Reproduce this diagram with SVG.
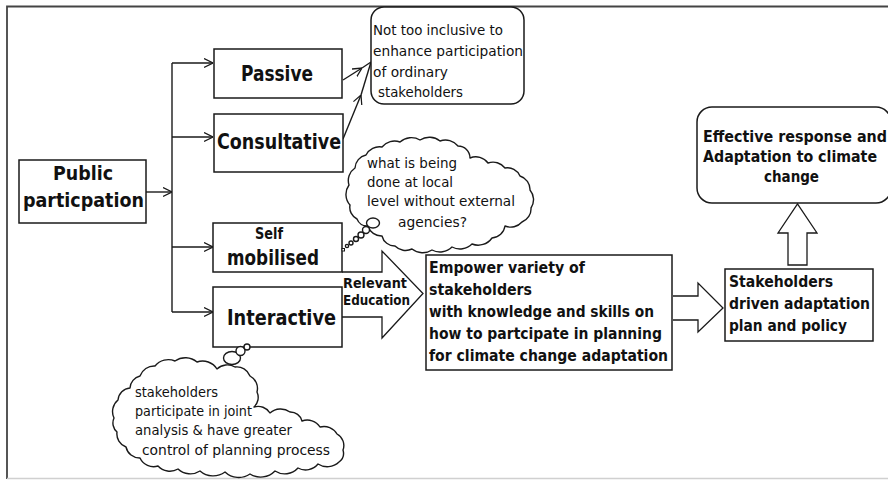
<svg xmlns="http://www.w3.org/2000/svg" width="888" height="481" viewBox="0 0 888 481">
  <style>
    .box { fill: #fff; stroke: #1a1a1a; stroke-width: 1.5; }
    .line { fill: none; stroke: #1a1a1a; stroke-width: 1.4; }
    .block { fill: #fff; stroke: #1a1a1a; stroke-width: 1.3; stroke-linejoin: miter; }
    .cloud { fill: #fff; stroke: #1a1a1a; stroke-width: 1.4; stroke-linejoin: round; }
    text { font-family: "DejaVu Sans Condensed", "DejaVu Sans", sans-serif; fill: #111; }
    .b22 { font-size: 22px; font-weight: bold; }
    .b20 { font-size: 20px; font-weight: bold; }
    .b16 { font-size: 16px; font-weight: bold; }
    .b15 { font-size: 15px; font-weight: bold; }
    .b14 { font-size: 14px; font-weight: bold; }
    .r15 { font-size: 14.5px; }
  </style>
  <defs>
    <marker id="open" viewBox="0 0 10 10" refX="10" refY="5" markerWidth="9" markerHeight="11" markerUnits="userSpaceOnUse" orient="auto">
      <path d="M0,0 L10,5 L0,10" fill="none" stroke="#1a1a1a" stroke-width="1.4"/>
    </marker>
  </defs>

  <rect width="888" height="481" fill="#fff"/>
  <!-- outer frame -->
  <path d="M7,479 L7,6.5 L888,6.5" fill="none" stroke="#444" stroke-width="1.8"/>
  <path d="M7,478.5 L888,478.5" fill="none" stroke="#d0d0d0" stroke-width="1.5"/>

  <!-- connectors -->
  <g id="connectors">
    <path class="line" d="M146,192 L172,192" marker-end="url(#open)"/>
    <path class="line" d="M172,63 L172,312"/>
    <path class="line" d="M172,63 L213,63" marker-end="url(#open)"/>
    <path class="line" d="M172,137 L213,137" marker-end="url(#open)"/>
    <path class="line" d="M172,247 L213,247" marker-end="url(#open)"/>
    <path class="line" d="M172,312 L213,312" marker-end="url(#open)"/>
    <!-- to the note -->
    <path class="line" d="M343,80 L362,68" marker-end="url(#open)"/>
    <path class="line" d="M362,68 L371,62"/>
    <path class="line" d="M343,139 L361,95" marker-end="url(#open)"/>
    <path class="line" d="M361,95 L371,62"/>
    <!-- block arrows -->
    <polyline class="block" points="342,272 382,272 382,251 423,293.5 382,338 382,317 342,317"/>
    <polyline class="block" points="673,296 698,296 698,283 723,308 698,332 698,320 673,320"/>
    <polygon class="block" points="788,265 788,233 778,233 797.5,204 817,233 807,233 807,265"/>
  </g>

  <g id="public">
    <rect class="box" x="19" y="160" width="127" height="63"/>
    <text class="b20" x="53" y="180" textLength="60" lengthAdjust="spacingAndGlyphs">Public</text>
    <text class="b20" x="23" y="207" textLength="121" lengthAdjust="spacingAndGlyphs">particpation</text>
  </g>

  <g id="passive">
    <rect class="box" x="214" y="49" width="128" height="49"/>
    <text class="b22" x="241" y="81" textLength="72" lengthAdjust="spacingAndGlyphs">Passive</text>
  </g>

  <g id="consultative">
    <rect class="box" x="214" y="114" width="129" height="58"/>
    <text class="b22" x="217" y="149" textLength="124" lengthAdjust="spacingAndGlyphs">Consultative</text>
  </g>

  <g id="self-mobilised">
    <rect class="box" x="213" y="223" width="129" height="49"/>
    <text class="b15" x="255" y="239" textLength="28" lengthAdjust="spacingAndGlyphs">Self</text>
    <text class="b22" x="227" y="265" textLength="92" lengthAdjust="spacingAndGlyphs">mobilised</text>
  </g>

  <g id="interactive">
    <rect class="box" x="213" y="287" width="129" height="60"/>
    <text class="b22" x="227" y="325" textLength="109" lengthAdjust="spacingAndGlyphs">Interactive</text>
  </g>

  <g id="relevant-education">
    <text class="b14" x="343" y="288" textLength="64" lengthAdjust="spacingAndGlyphs">Relevant</text>
    <text class="b14" x="343" y="305" textLength="67" lengthAdjust="spacingAndGlyphs">Education</text>
  </g>

  <g id="note-inclusive">
    <rect class="box" x="371" y="7" width="153" height="97" rx="13" ry="13" stroke-width="1.3"/>
    <text class="r15" x="373" y="35" textLength="130" lengthAdjust="spacingAndGlyphs">Not too inclusive to</text>
    <text class="r15" x="373" y="56" textLength="150" lengthAdjust="spacingAndGlyphs">enhance participation</text>
    <text class="r15" x="373" y="77" textLength="75" lengthAdjust="spacingAndGlyphs">of ordinary</text>
    <text class="r15" x="378" y="97" textLength="85" lengthAdjust="spacingAndGlyphs">stakeholders</text>
  </g>

  <g id="cloud-local">
    <path class="cloud" d="M350,205 A16,16 0 0 1 349,185 A15,15 0 0 1 355,168 A14,14 0 0 1 366,155 A15,15 0 0 1 382,147 A16,16 0 0 1 400,142 A17,17 0 0 1 420,140 A17,17 0 0 1 440,141 A16,16 0 0 1 458,146 A12,12 0 0 1 470,158 A15,15 0 0 1 488,163 A15,15 0 0 1 505,168 A14,14 0 0 1 520,176 A14,14 0 0 1 530,190 A15,15 0 0 1 531,208 A14,14 0 0 1 522,222 A15,15 0 0 1 505,226 A14,14 0 0 1 492,238 A17,17 0 0 1 472,244 A17,17 0 0 1 452,247 A17,17 0 0 1 432,250 A17,17 0 0 1 412,249 A15,15 0 0 1 395,246 A13,13 0 0 1 382,236 A14,14 0 0 1 368,226 A11,11 0 0 1 357,219 A13,13 0 0 1 350,205 Z"/>
    <ellipse class="cloud" cx="373" cy="223" rx="6.5" ry="5"/>
    <circle class="cloud" cx="366" cy="230" r="3.5"/>
    <circle class="cloud" cx="361" cy="235" r="3"/>
    <circle class="cloud" cx="356" cy="239" r="2.5"/>
    <circle class="cloud" cx="351" cy="243" r="2"/>
    <circle class="cloud" cx="347" cy="246" r="1.6"/>
    <rect x="342" y="248.5" width="2.5" height="2.5" fill="#fff" stroke="#1a1a1a" stroke-width="1"/>
    <text class="r15" x="367" y="168" textLength="90" lengthAdjust="spacingAndGlyphs">what is being</text>
    <text class="r15" x="367" y="187" textLength="86" lengthAdjust="spacingAndGlyphs">done at local</text>
    <text class="r15" x="367" y="206" textLength="148" lengthAdjust="spacingAndGlyphs">level without external</text>
    <text class="r15" x="398" y="227" textLength="69" lengthAdjust="spacingAndGlyphs">agencies?</text>
  </g>

  <g id="cloud-joint">
    <path class="cloud" d="M114,418 A15,15 0 0 1 118,400 A13,13 0 0 1 130,388 A13,13 0 0 1 140,376 A15,15 0 0 1 155,366 A17,17 0 0 1 175,361 A18,18 0 0 1 197,362 A17,17 0 0 1 217,369 A15,15 0 0 1 235,367 A14,14 0 0 1 250,376 A14,14 0 0 1 257,392 A13,13 0 0 1 254,407 A14,14 0 0 1 270,413 A16,16 0 0 1 290,412 A12,12 0 0 1 302,421 A15,15 0 0 1 320,427 A15,15 0 0 1 337,434 A13,13 0 0 1 343,450 A11,11 0 0 1 339,462 A17,17 0 0 1 318,464 A16,16 0 0 1 298,468 A18,18 0 0 1 275,471 A20,20 0 0 1 250,474 A20,20 0 0 1 225,472 A20,20 0 0 1 200,471 A18,18 0 0 1 178,469 A16,16 0 0 1 158,466 A15,15 0 0 1 140,458 A14,14 0 0 1 126,447 A14,14 0 0 1 117,432 A12,12 0 0 1 114,418 Z"/>
    <ellipse class="cloud" cx="232" cy="358" rx="8.5" ry="6.5"/>
    <circle class="cloud" cx="240.5" cy="351" r="4.5"/>
    <circle class="cloud" cx="247" cy="347" r="3"/>
    <text class="r15" x="135" y="397" textLength="83" lengthAdjust="spacingAndGlyphs">stakeholders</text>
    <text class="r15" x="135" y="416" textLength="117" lengthAdjust="spacingAndGlyphs">participate in joint</text>
    <text class="r15" x="135" y="435" textLength="157" lengthAdjust="spacingAndGlyphs">analysis &amp; have greater</text>
    <text class="r15" x="142" y="455" textLength="188" lengthAdjust="spacingAndGlyphs">control of planning process</text>
  </g>

  <g id="empower">
    <rect class="box" x="426" y="255" width="246" height="115"/>
    <text class="b16" x="429" y="273" textLength="156" lengthAdjust="spacingAndGlyphs">Empower variety of</text>
    <text class="b16" x="429" y="295" textLength="103" lengthAdjust="spacingAndGlyphs">stakeholders</text>
    <text class="b16" x="429" y="317" textLength="225" lengthAdjust="spacingAndGlyphs">with knowledge and skills on</text>
    <text class="b16" x="429" y="339" textLength="233" lengthAdjust="spacingAndGlyphs">how to partcipate in planning</text>
    <text class="b16" x="429" y="361" textLength="239" lengthAdjust="spacingAndGlyphs">for climate change adaptation</text>
  </g>

  <g id="stakeholders-plan">
    <rect class="box" x="725" y="269" width="148" height="72"/>
    <text class="b16" x="729" y="287" textLength="104" lengthAdjust="spacingAndGlyphs">Stakeholders</text>
    <text class="b16" x="729" y="309" textLength="141" lengthAdjust="spacingAndGlyphs">driven adaptation</text>
    <text class="b16" x="729" y="331" textLength="118" lengthAdjust="spacingAndGlyphs">plan and policy</text>
  </g>

  <g id="effective-response">
    <rect class="box" x="697" y="107" width="194" height="96" rx="15" ry="15" stroke-width="1.3"/>
    <text class="b16" x="703" y="142" textLength="184" lengthAdjust="spacingAndGlyphs">Effective response and</text>
    <text class="b16" x="703" y="162" textLength="174" lengthAdjust="spacingAndGlyphs">Adaptation to climate</text>
    <text class="b16" x="764" y="182" textLength="55" lengthAdjust="spacingAndGlyphs">change</text>
  </g>
</svg>
